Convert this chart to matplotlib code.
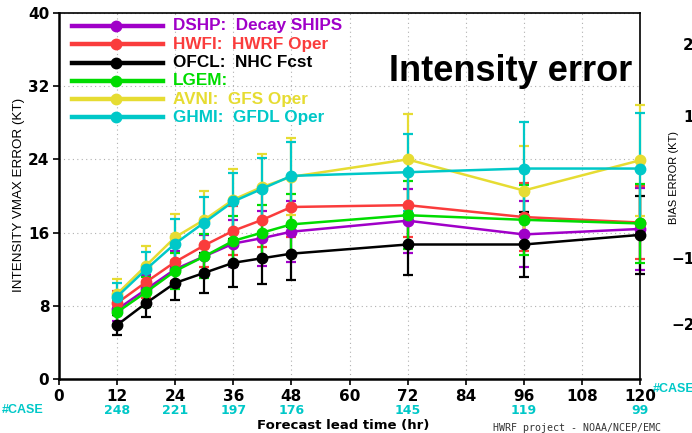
import numpy as np
import matplotlib
matplotlib.use("Agg")
import matplotlib.pyplot as plt
from matplotlib.transforms import blended_transform_factory

# forecast lead times (hr)
HOURS = [12, 18, 24, 30, 36, 42, 48, 72, 96, 120]

# number of verifying cases at the labelled lead times
CASE_HOURS = [12, 24, 36, 48, 72, 96, 120]
CASE_COUNTS = [248, 221, 197, 176, 145, 119, 99]

# mean absolute intensity error (kt)
DSHP = [7.6, 9.8, 12.0, 13.4, 14.8, 15.4, 16.1, 17.3, 15.8, 16.4]
HWFI = [8.3, 10.6, 12.8, 14.6, 16.2, 17.4, 18.8, 19.0, 17.7, 17.1]
OFCL = [5.9, 8.3, 10.5, 11.6, 12.7, 13.2, 13.7, 14.7, 14.7, 15.75]
LGEM = [7.3, 9.5, 11.8, 13.4, 15.1, 16.0, 16.9, 17.9, 17.4, 17.0]
AVNI = [9.3, 12.4, 15.5, 17.4, 19.6, 21.0, 22.1, 24.0, 20.6, 23.9]
GHMI = [9.0, 12.0, 14.8, 17.1, 19.4, 20.8, 22.2, 22.6, 23.0, 23.0]

# confidence half-widths (kt)
DSHP_ERR = [1.3, 1.6, 2.0, 2.3, 2.6, 3.0, 3.3, 3.5, 3.6, 4.5]
HWFI_ERR = [1.3, 1.7, 2.1, 2.4, 2.7, 3.0, 3.3, 3.5, 3.7, 4.0]
OFCL_ERR = [1.1, 1.5, 1.9, 2.2, 2.6, 2.8, 2.9, 3.3, 3.5, 4.3]
LGEM_ERR = [1.3, 1.6, 2.0, 2.4, 2.7, 3.0, 3.3, 3.7, 3.8, 4.3]
AVNI_ERR = [1.6, 2.1, 2.5, 3.1, 3.3, 3.6, 4.2, 5.0, 4.9, 6.1]
GHMI_ERR = [1.5, 1.9, 2.7, 2.8, 3.1, 3.4, 3.7, 4.2, 5.1, 6.1]

LABELS = ["DSHP:  Decay SHIPS", "HWFI:  HWRF Oper", "OFCL:  NHC Fcst",
          "LGEM:", "AVNI:  GFS Oper", "GHMI:  GFDL Oper"]

# GrADS default palette
COLORS = ["#a000c8", "#fa3c3c", "#000000", "#00dc00", "#e6dc32", "#00c8c8"]
CASE_COLOR = "#00c8c8"

W, H = 692, 433
fig = plt.figure(figsize=(W / 100, H / 100), dpi=100)
ax = fig.add_axes([59 / W, 1 - 379 / H, 581 / W, 366 / H])

series = [DSHP, HWFI, OFCL, LGEM, AVNI, GHMI]
errors = [DSHP_ERR, HWFI_ERR, OFCL_ERR, LGEM_ERR, AVNI_ERR, GHMI_ERR]

for vals, err, col in zip(series, errors, COLORS):
    ax.errorbar(HOURS, vals, yerr=err, color=col, lw=1.8, marker="o",
                ms=7.5, elinewidth=1.6, capsize=3.5, capthick=1.6,
                clip_on=False, zorder=3)

ax.set_xlim(0, 120)
ax.set_ylim(0, 40)
ax.set_xticks(range(0, 121, 12))
ax.set_yticks(range(0, 41, 8))
ax.grid(True, color="#b0b0b0", linestyle=(0, (1, 3)), lw=0.8)
ax.set_axisbelow(True)
ax.tick_params(axis="both", direction="out", length=4, width=1.2,
               labelsize=11, pad=3)
for lab in ax.get_xticklabels() + ax.get_yticklabels():
    lab.set_fontweight("bold")
for side in ["left", "bottom"]:
    ax.spines[side].set_linewidth(1.8)
for side in ["top", "right"]:
    ax.spines[side].set_linewidth(1.2)

# legend block in the upper-left corner
y0, dy = 0.9645, 0.05
for i, (lab, col) in enumerate(zip(LABELS, COLORS)):
    y = y0 - i * dy
    ax.plot([0.0224, 0.179], [y, y], transform=ax.transAxes, color=col,
            lw=3.2, clip_on=False, zorder=4)
    ax.plot([0.098], [y], transform=ax.transAxes, color=col, marker="o",
            ms=7.5, clip_on=False, zorder=4)
    ax.text(0.196, y, lab, transform=ax.transAxes, color=col,
            fontsize=12.3, fontweight="bold", family="Liberation Sans",
            va="center", ha="left")

ax.text(0.986, 0.839, "Intensity error", transform=ax.transAxes,
        fontsize=26, fontweight="bold", family="Liberation Sans",
        ha="right", va="center")

# case counts under the x axis
trans = blended_transform_factory(ax.transData, ax.transAxes)
for hr, n in zip(CASE_HOURS, CASE_COUNTS):
    ax.text(hr, -0.0847, str(n), transform=trans, color=CASE_COLOR,
            fontsize=9, fontweight="bold", ha="center", va="center")

fig.text(2 / W, 1 - 410 / H, "#CASE", color=CASE_COLOR, fontsize=9,
         fontweight="bold", family="Liberation Sans", ha="left", va="center")
fig.text(653 / W, 1 - 389 / H, "#CASE", color=CASE_COLOR, fontsize=9,
         fontweight="bold", family="Liberation Sans", ha="left", va="center")

fig.text(19 / W, 1 - 195 / H, "INTENSITY VMAX ERROR (KT)", rotation=90,
         fontsize=9.6, family="Liberation Sans", ha="center", va="center")
fig.text(343 / W, 1 - 426 / H, "Forecast lead time (hr)", fontsize=9.5,
         fontweight="bold", ha="center", va="center")
fig.text(493 / W, 1 - 428 / H, "HWRF project - NOAA/NCEP/EMC",
         fontsize=7.2, family="DejaVu Sans Mono", color="#333333",
         ha="left", va="center")

# neighbouring bias panel, mostly off the edge
fig.text(674 / W, 1 - 178 / H, "BIAS ERROR (KT)", rotation=90, fontsize=8,
         family="Liberation Sans", ha="center", va="center")
for txt, xp, yp in [("20", 683, 46), ("10", 683, 118),
                    ("\u221210", 671, 260), ("\u221220", 671, 325)]:
    fig.text(xp / W, 1 - yp / H, txt, fontsize=11, fontweight="bold",
             ha="left", va="center")

fig.savefig("out.png", dpi=100)
